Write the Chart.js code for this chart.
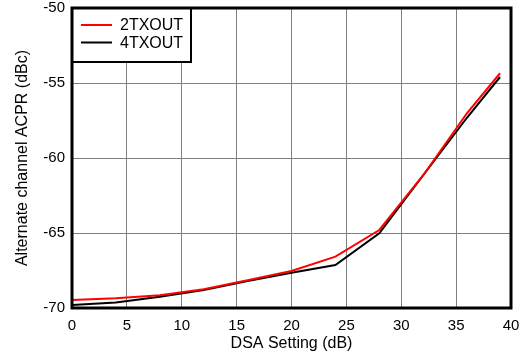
<!DOCTYPE html>
<html>
<head>
<meta charset="utf-8">
<script src="https://cdn.jsdelivr.net/npm/chart.js@4/dist/chart.umd.min.js"></script>
<style>
html,body{margin:0;padding:0;background:#fff;}
#wrap{width:523px;height:358px;position:relative;}
</style>
</head>
<body>
<div id="wrap"><canvas id="c" width="523" height="358"></canvas></div>
<script>
const dsaSetting = [0, 4, 8, 12, 16, 20, 24, 28, 32, 36, 39];
const acpr2TX = [-69.47, -69.35, -69.15, -68.75, -68.15, -67.53, -66.58, -64.8, -61.15, -57.0, -54.35];
const acpr4TX = [-69.8, -69.63, -69.25, -68.8, -68.2, -67.65, -67.13, -65.02, -61.15, -57.3, -54.6];
const seriesNames = ['2TXOUT', '4TXOUT'];
const xTicks = [0, 5, 10, 15, 20, 25, 30, 35, 40];
const yTicks = [-70, -65, -60, -55, -50];
const xTitle = 'DSA Setting (dB)';
const yTitle = 'Alternate channel ACPR (dBc)';

const FONT = 'Arial, "Liberation Sans", sans-serif';

const framePlugin = {
  id: 'frame',
  afterDatasetsDraw(chart) {
    const {ctx, chartArea: a} = chart;
    ctx.save();
    const lx = a.left, ly = a.top, lw = 119, lh = 54;
    ctx.fillStyle = '#fff';
    ctx.fillRect(lx, ly, lw, lh);
    ctx.strokeStyle = '#000';
    ctx.lineWidth = 2;
    ctx.strokeRect(lx, ly, lw, lh);
    ctx.font = '16px ' + FONT;
    ctx.textBaseline = 'middle';
    chart.data.datasets.forEach((ds, i) => {
      const y = ly + 17 + i * 17.5;
      ctx.strokeStyle = ds.borderColor;
      ctx.lineWidth = 2;
      ctx.beginPath();
      ctx.moveTo(lx + 9, y);
      ctx.lineTo(lx + 40, y);
      ctx.stroke();
      ctx.fillStyle = '#000';
      ctx.fillText(ds.label, lx + 48, y + 1);
    });
    ctx.strokeStyle = '#000';
    ctx.lineWidth = 3;
    ctx.strokeRect(a.left, a.top, a.right - a.left, a.bottom - a.top);
    ctx.restore();
  }
};

new Chart(document.getElementById('c'), {
  type: 'line',
  data: {
    datasets: [
      {label: seriesNames[0], data: dsaSetting.map((x, i) => ({x, y: acpr2TX[i]})), borderColor: '#ff0000', borderWidth: 2, pointRadius: 0, tension: 0, order: 0},
      {label: seriesNames[1], data: dsaSetting.map((x, i) => ({x, y: acpr4TX[i]})), borderColor: '#000000', borderWidth: 2, pointRadius: 0, tension: 0, order: 1}
    ]
  },
  options: {
    responsive: false,
    animation: false,
    devicePixelRatio: 1,
    layout: {padding: {left: 0, right: 12, top: 8, bottom: 0}},
    plugins: {legend: {display: false}, tooltip: {enabled: false}},
    scales: {
      x: {
        type: 'linear', min: 0, max: 40,
        afterBuildTicks: s => { s.ticks = xTicks.map(v => ({value: v})); },
        afterFit: s => { s.height = 50; s.paddingLeft = 0; s.paddingRight = 0; },
        grid: {color: '#808080', lineWidth: 1, drawTicks: false},
        border: {display: false},
        ticks: {color: '#000', font: {family: FONT, size: 15}, padding: 9, maxRotation: 0},
        title: {display: true, text: xTitle, color: '#000', font: {family: FONT, size: 16}, padding: {top: 0, bottom: 5}}
      },
      y: {
        type: 'linear', min: -70, max: -50,
        afterBuildTicks: s => { s.ticks = yTicks.map(v => ({value: v})); },
        afterFit: s => { s.width = 72; s.paddingTop = 0; s.paddingBottom = 0; },
        grid: {color: '#808080', lineWidth: 1, drawTicks: false},
        border: {display: false},
        ticks: {color: '#000', font: {family: FONT, size: 15}, padding: 7},
        title: {display: true, text: yTitle, color: '#000', font: {family: FONT, size: 16}, padding: {top: 13, bottom: 0}}
      }
    }
  },
  plugins: [framePlugin]
});
</script>
</body>
</html>
